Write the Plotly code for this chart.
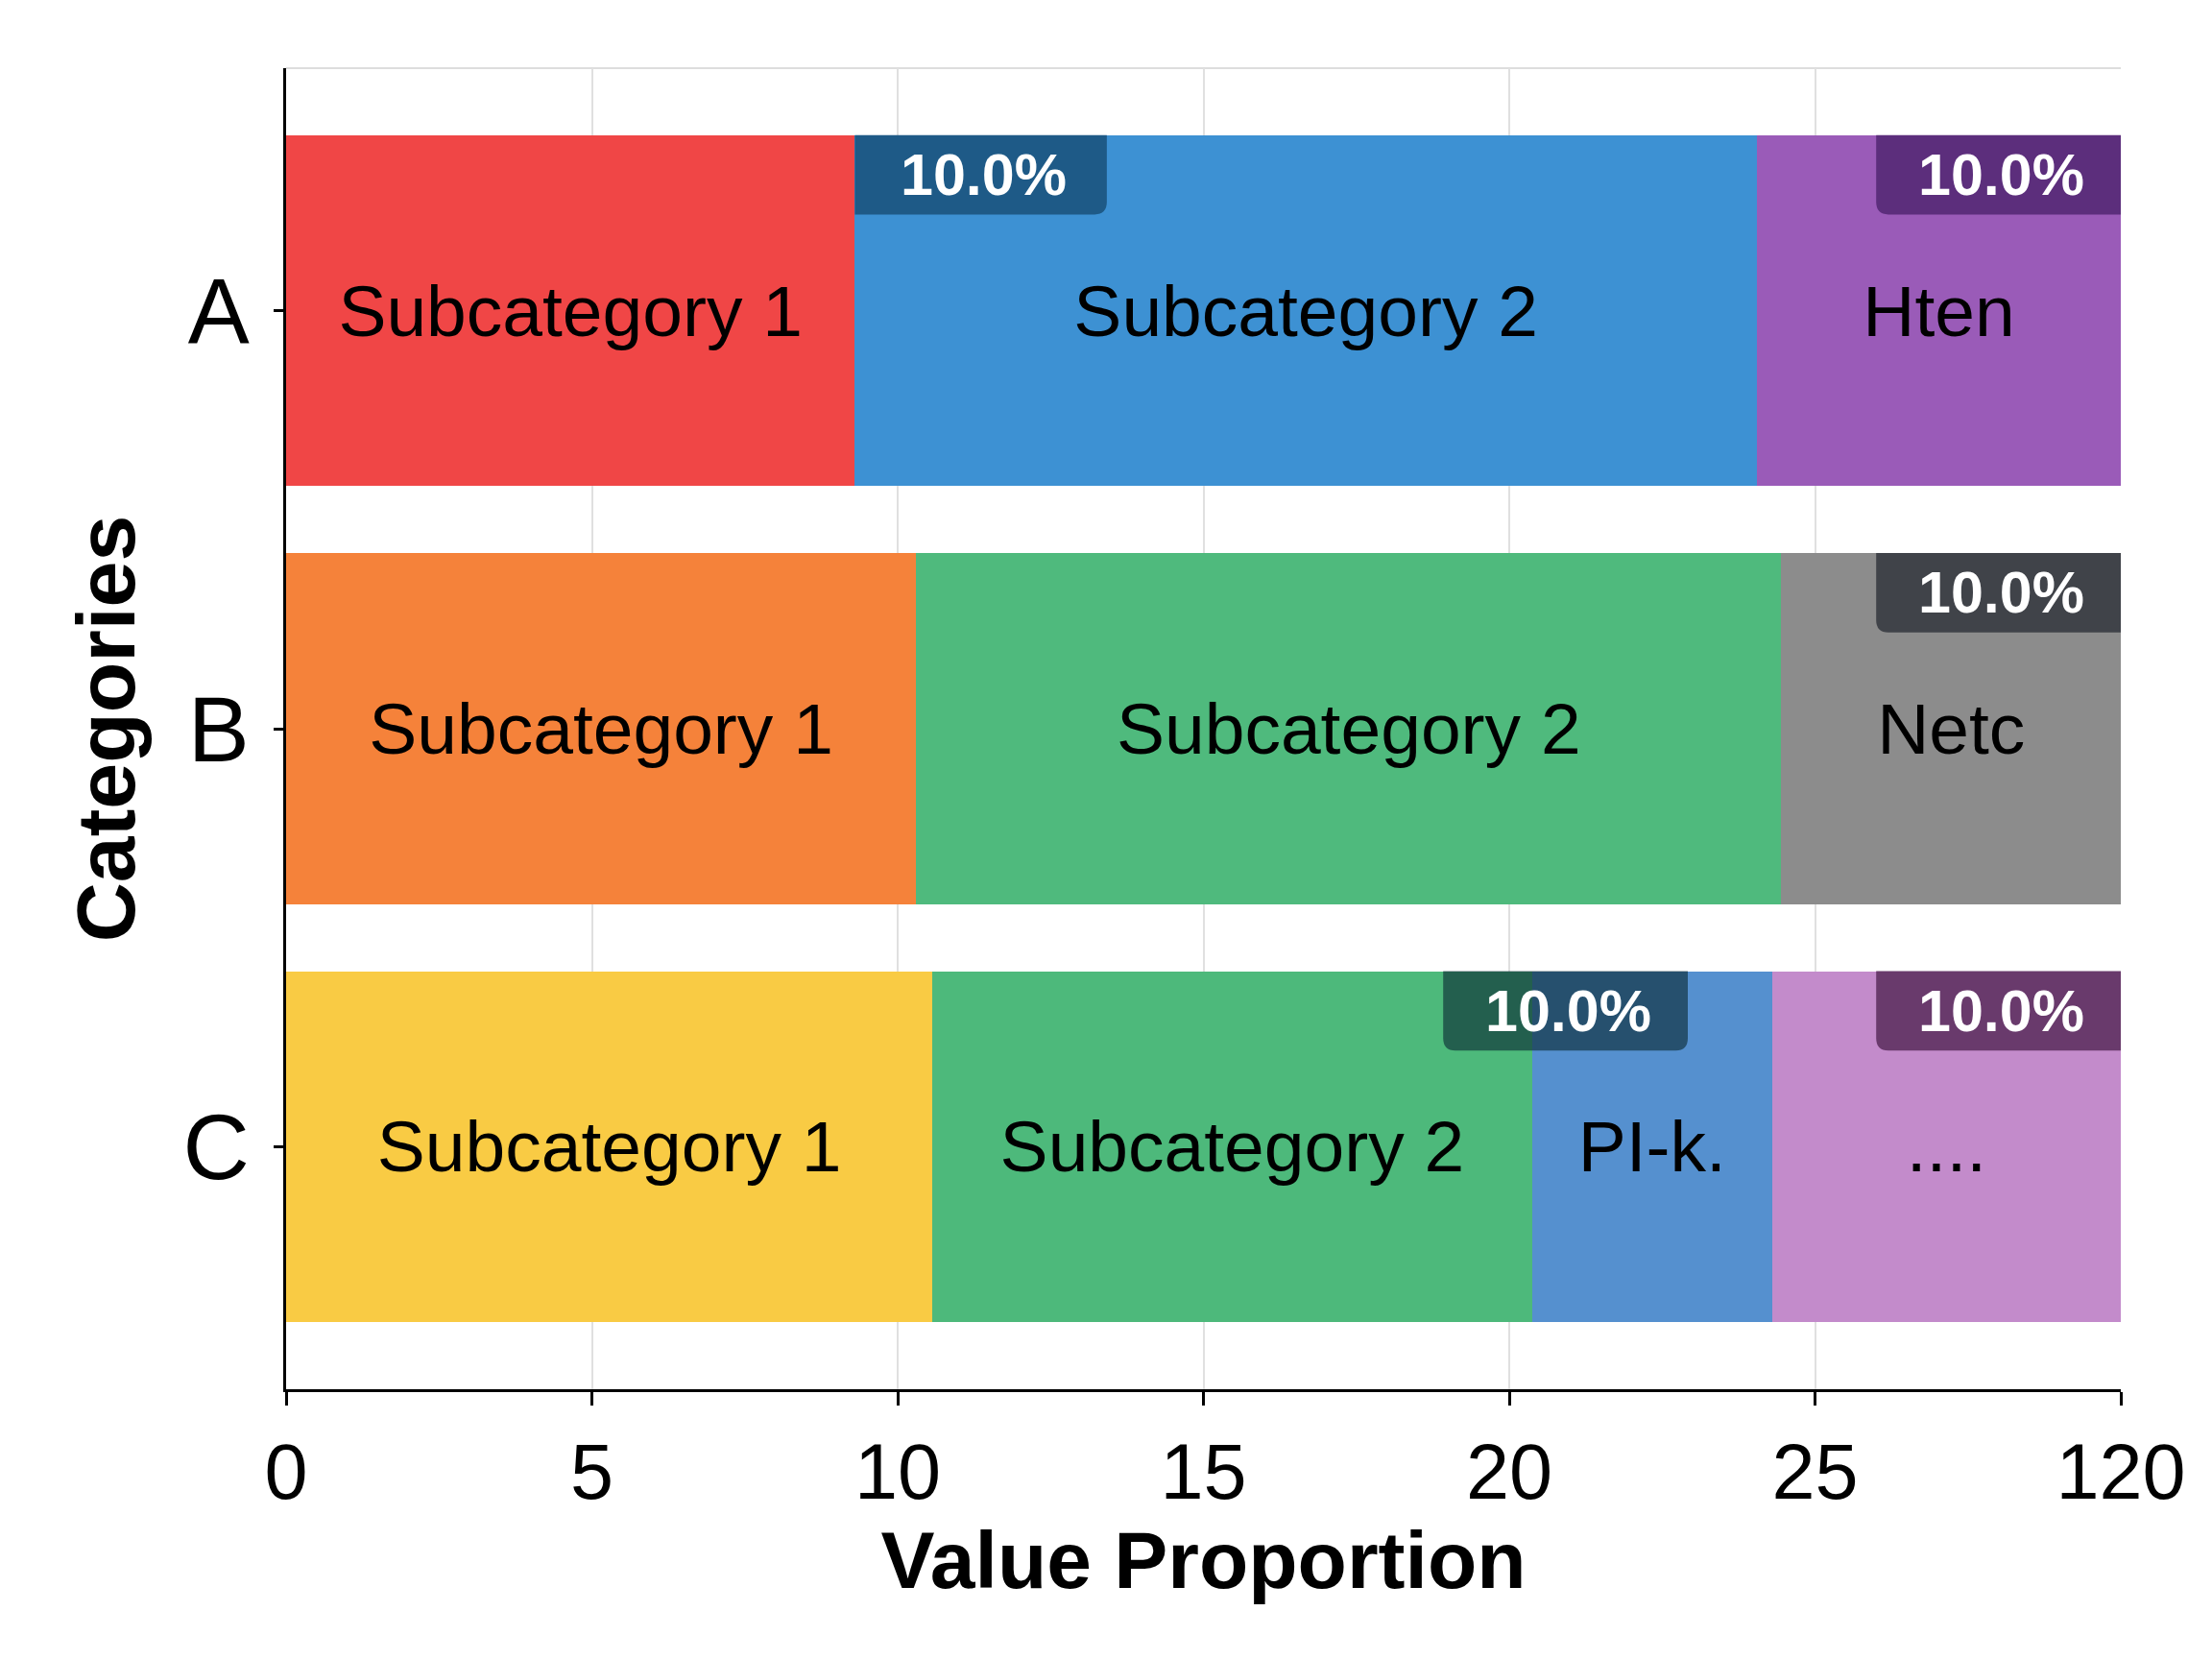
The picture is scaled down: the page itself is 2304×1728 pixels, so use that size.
import plotly.graph_objects as go

# ---- data ----
categories = ["A", "B", "C"]
cat_pos = [0, 1, 2]
seg_values = {
    "A": [9.3, 14.75, 5.95],
    "B": [10.3, 14.15, 5.55],
    "C": [10.57, 9.8, 3.93, 5.7],
}
seg_labels = {
    "A": ["Subcategory 1", "Subcategory 2", "Hten"],
    "B": ["Subcategory 1", "Subcategory 2", "Netc"],
    "C": ["Subcategory 1", "Subcategory 2", "PI-k.", "...."],
}
seg_colors = {
    "A": ["#F04646", "#3D91D3", "#9A5BB8"],
    "B": ["#F5823A", "#4FBA7D", "#8C8C8C"],
    "C": ["#F9CB44", "#4DB97B", "#5590CF", "#C38BCB"],
}
x_tickvals = [0, 5, 10, 15, 20, 25, 30]
x_ticktext = ["0", "5", "10", "15", "20", "25", "120"]

# badges: (category, segment index the badge is tied to, anchor, colour)
badge_text = "10.0%"
badges = [
    ("A", 1, "start", "#1E5A87"),
    ("A", 2, "end", "#5C2E7C"),
    ("B", 2, "end", "#404349"),
    ("C", 1, "straddle", "rgba(10,40,50,0.62)"),
    ("C", 3, "end", "#693A6C"),
]
badge_width = 4.0

FONT = "Liberation Sans, Arial, Helvetica, sans-serif"

fig = go.Figure()
for cat, pos in zip(categories, cat_pos):
    vals = seg_values[cat]
    for i, v in enumerate(vals):
        fig.add_trace(go.Bar(
            x=[v], y=[pos], orientation="h",
            marker=dict(color=seg_colors[cat][i], line=dict(width=0)),
            text=[seg_labels[cat][i]],
            textposition="inside", insidetextanchor="middle",
            textangle=0, constraintext="none",
            textfont=dict(size=75, color="#000000", family=FONT),
            hoverinfo="skip", showlegend=False,
        ))

bar_w = 0.84
badge_h = 0.19
r_x, r_y = 0.2, 0.03
shapes = []
annotations = []
for cat, si, mode, col in badges:
    pos = cat_pos[categories.index(cat)]
    vals = seg_values[cat]
    start = sum(vals[:si])
    end = sum(vals[:si + 1])
    if mode == "start":
        x0, x1 = start, start + badge_width * 1.03
        round_l, round_r = False, True
    elif mode == "end":
        x0, x1 = end - badge_width, end
        round_l, round_r = True, False
    else:
        x0, x1 = end - 1.45, end - 1.45 + badge_width
        round_l, round_r = True, True
    y0 = pos - bar_w / 2
    y1 = y0 + badge_h
    p = f"M {x0},{y0} L {x1},{y0} "
    if round_r:
        p += f"L {x1},{y1 - r_y} Q {x1},{y1} {x1 - r_x},{y1} "
    else:
        p += f"L {x1},{y1} "
    if round_l:
        p += f"L {x0 + r_x},{y1} Q {x0},{y1} {x0},{y1 - r_y} "
    else:
        p += f"L {x0},{y1} "
    p += "Z"
    shapes.append(dict(type="path", path=p, xref="x", yref="y",
                       fillcolor=col, line=dict(width=0), layer="above"))
    annotations.append(dict(x=(x0 + x1) / 2 + 0.05, y=(y0 + y1) / 2, xref="x", yref="y",
                            text=badge_text, showarrow=False,
                            font=dict(size=61, color="white", family=FONT, weight="bold")))

# top light border of plot area
shapes.append(dict(type="line", xref="paper", yref="paper", x0=0, x1=1, y0=1, y1=1,
                   line=dict(color="#DDDDDD", width=2), layer="below"))

fig.update_layout(
    barmode="stack",
    bargap=0.16,
    width=2304, height=1728,
    margin=dict(l=298, r=95, t=71, b=281),
    paper_bgcolor="white", plot_bgcolor="white",
    shapes=shapes, annotations=annotations,
    font=dict(family=FONT, color="black"),
)
fig.update_xaxes(
    range=[0, 30], tickvals=x_tickvals, ticktext=x_ticktext,
    showgrid=True, gridcolor="#E0E0E0", gridwidth=2,
    showline=True, linecolor="black", linewidth=3,
    ticks="outside", ticklen=14, tickwidth=3, tickcolor="black",
    tickfont=dict(size=81, color="black", family=FONT),
    zeroline=False,
    title=dict(text="<b>Value Proportion</b>", font=dict(size=84, family=FONT, color="black"), standoff=14),
)
fig.update_yaxes(
    range=[2.58, -0.58], tickvals=cat_pos, ticktext=categories,
    showgrid=False, zeroline=False,
    showline=True, linecolor="black", linewidth=3,
    ticks="outside", ticklen=10, tickwidth=3, tickcolor="black",
    ticklabelstandoff=6,
    tickfont=dict(size=96, color="black", family=FONT),
    title=dict(text="<b>Categories</b>", font=dict(size=86, family=FONT, color="black"), standoff=22),
)

fig.write_html("out.html")
